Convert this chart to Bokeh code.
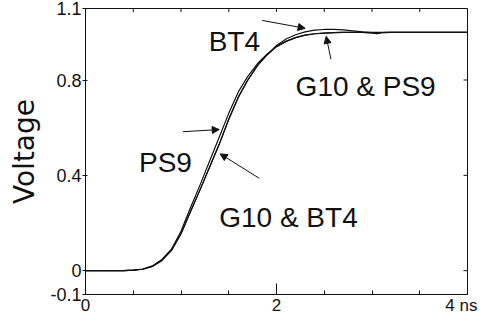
from bokeh.plotting import figure
from bokeh.models import (Range1d, FixedTicker, LinearAxis, Label, Arrow,
                          NormalHead, ColumnDataSource)
from bokeh.embed import file_html
from bokeh.resources import INLINE

# ---- data (time in ns, voltage) ----
t_ns = [0, 0.4, 0.5, 0.6, 0.7, 0.8, 0.9, 1.0, 1.1, 1.2, 1.3, 1.4, 1.5, 1.6,
        1.7, 1.8, 1.9, 2.0, 2.1, 2.2, 2.3, 2.4, 2.5, 2.6, 2.7, 2.8, 2.9,
        3.0, 3.05, 3.1, 3.2, 3.5, 4.0]
v_ps9 = [0, 0, 0.002, 0.007, 0.02, 0.047, 0.09, 0.165, 0.265, 0.36, 0.46,
         0.56, 0.66, 0.75, 0.815, 0.868, 0.908, 0.94, 0.962, 0.978, 0.988,
         0.994, 0.997, 0.999, 1.0, 1.0, 1.0, 0.998, 0.994, 0.999, 1.0, 1.0, 1.0]
v_g10 = [0, 0, 0.002, 0.006, 0.018, 0.043, 0.085, 0.155, 0.248, 0.34, 0.435,
         0.53, 0.635, 0.728, 0.80, 0.86, 0.905, 0.94, 0.962, 0.978, 0.988,
         0.994, 0.997, 0.999, 1.0, 1.0, 1.0, 0.998, 0.994, 0.999, 1.0, 1.0, 1.0]
v_bt4 = [0, 0, 0.002, 0.006, 0.018, 0.043, 0.085, 0.155, 0.248, 0.34, 0.435,
         0.53, 0.635, 0.728, 0.80, 0.86, 0.905, 0.945, 0.972, 0.99, 1.002,
         1.009, 1.012, 1.012, 1.01, 1.006, 1.002, 1.0, 1.0, 1.0, 1.0, 1.0, 1.0]

x_ticks = [0, 2, 4]
x_tick_labels = ["0", "2", "4 ns"]
x_minor = [0.5, 1.0, 1.5, 2.5, 3.0, 3.5]
y_ticks = [-0.1, 0, 0.4, 0.8, 1.1]
y_tick_labels = ["-0.1", "0", "0.4", "0.8", "1.1"]
right_ticks = [0, 0.4, 0.8]

FONT = "Liberation Sans"
INK = "#111111"

p = figure(width=477, height=317, output_backend="svg", toolbar_location=None,
           x_range=Range1d(0, 4), y_range=Range1d(-0.1, 1.1),
           x_axis_location=None, y_axis_location=None,
           min_border_left=85, min_border_right=10, min_border_top=8,
           min_border_bottom=10)
p.xgrid.visible = False
p.ygrid.visible = False
p.outline_line_color = INK
p.outline_line_width = 1
p.background_fill_color = "white"
p.border_fill_color = "white"

# bottom axis
xb = LinearAxis(ticker=FixedTicker(ticks=x_ticks, minor_ticks=x_minor))
xb.major_label_overrides = {k: v for k, v in zip(x_ticks, x_tick_labels)}
xb.major_label_text_font = FONT
xb.major_label_text_font_size = "17px"
xb.major_label_text_color = INK
xb.major_label_standoff = 1
xb.major_tick_in = 11
xb.major_tick_out = 0
xb.minor_tick_in = 4
xb.minor_tick_out = 0
xb.axis_line_color = INK
xb.major_tick_line_color = INK
xb.minor_tick_line_color = INK
p.add_layout(xb, "below")

# left axis
yl = LinearAxis(ticker=FixedTicker(ticks=y_ticks))
yl.major_label_overrides = {k: v for k, v in zip(y_ticks, y_tick_labels)}
yl.major_label_text_font = FONT
yl.major_label_text_font_size = "18px"
yl.major_label_text_color = INK
yl.major_label_standoff = 1
yl.major_tick_in = 2
yl.major_tick_out = 3
yl.minor_tick_line_color = None
yl.axis_line_color = INK
yl.major_tick_line_color = INK
yl.axis_label = "Voltage"
yl.axis_label_text_font = "DejaVu Sans"
yl.axis_label_text_font_size = "28px"
yl.axis_label_text_font_style = "normal"
yl.axis_label_text_color = INK
yl.axis_label_standoff = 6
p.add_layout(yl, "left")

# top and right border tick marks
p.scatter(x=x_ticks + x_minor, y=[1.1] * (len(x_ticks) + len(x_minor)),
          marker="dash", angle=1.5708, size=7, line_color=INK, line_width=1)
p.scatter(x=[4] * len(right_ticks), y=right_ticks, marker="dash", size=8,
          line_color=INK, line_width=1)

# curves
for v in (v_ps9, v_g10, v_bt4):
    src = ColumnDataSource(dict(t=t_ns, v=v))
    p.line("t", "v", source=src, line_color=INK, line_width=1.2,
           line_join="round")

# annotations
notes = [
    ("BT4", 1.29, 0.9625, (1.85, 1.05, 2.30, 1.017)),
    ("G10 & PS9", 2.20, 0.771, (2.57, 0.8875, 2.52, 0.983)),
    ("PS9", 0.56, 0.454, (1.02, 0.583, 1.40, 0.592)),
    ("G10 & BT4", 1.40, 0.221, (1.82, 0.3875, 1.41, 0.49)),
]
for txt, lx, ly, (xs, ys, xe, ye) in notes:
    p.add_layout(Label(x=lx, y=ly, text=txt, text_align="left",
                       text_baseline="alphabetic", text_font=FONT,
                       text_font_size="28px", text_color=INK))
    p.add_layout(Arrow(x_start=xs, y_start=ys, x_end=xe, y_end=ye,
                       line_color=INK, line_width=1,
                       end=NormalHead(size=7, fill_color=INK,
                                      line_color=INK)))

open("out.html", "w").write(file_html(p, INLINE))
